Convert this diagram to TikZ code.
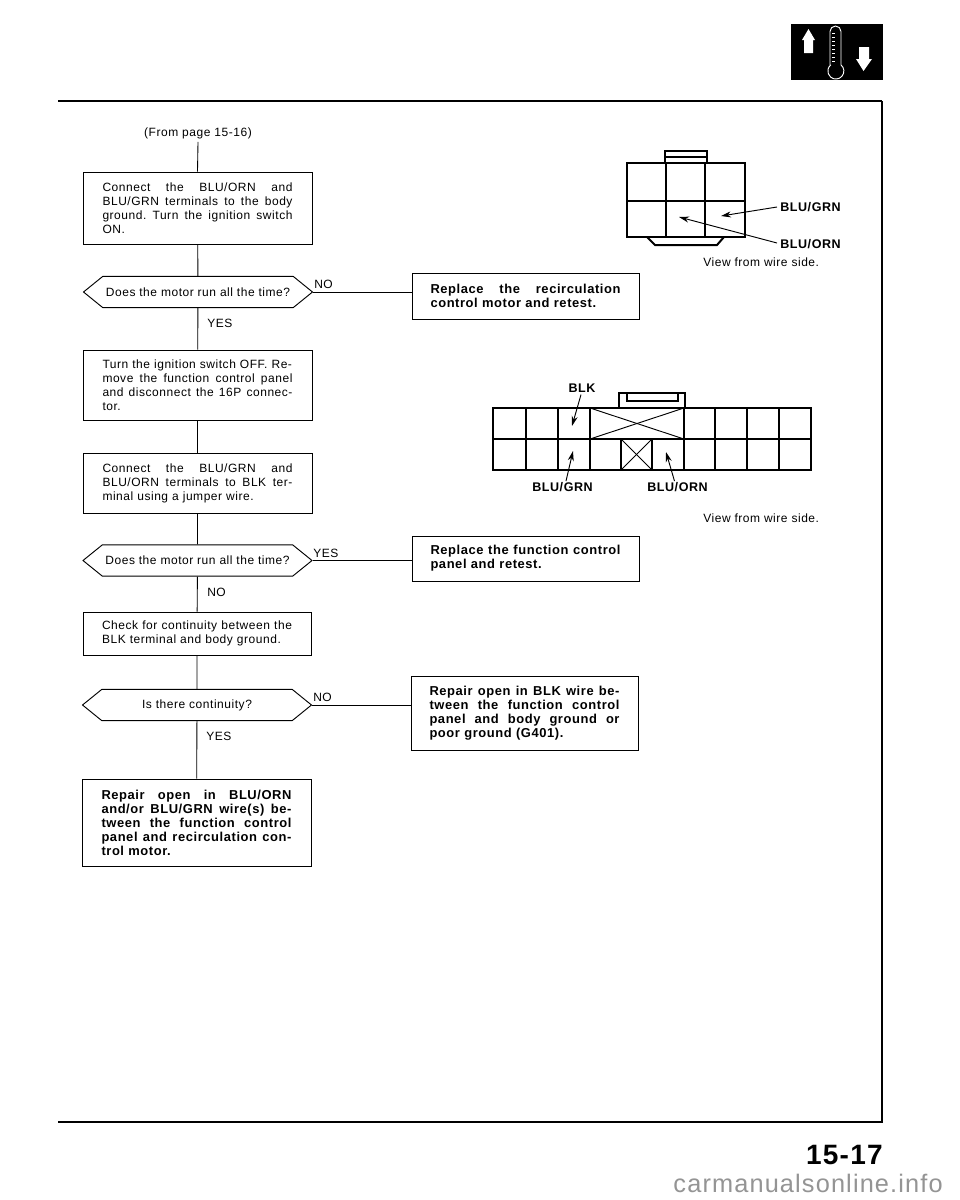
\documentclass[tikz,border=0pt]{standalone}
\usepackage{fontspec}
\setmainfont{Liberation Sans}[LetterSpace=4.5]
\usetikzlibrary{shapes.symbols,arrows.meta}
\newcommand{\jl}[1]{\leavevmode\hbox to 142.5pt{\frenchspacing\spaceskip=.25em plus 1fil\relax #1}}
\newcommand{\bxnode}[7][stepbox]{%
 \node[#1,minimum width={(#5-#3)*0.75pt},minimum height={(#6-#4)*0.75pt}] (#2) at ({(#3+#5)/2},{(#4+#6)/2}) {#7};}
\tikzset{
 basefont/.style={font=\fontsize{9}{10.5}\selectfont\frenchspacing},
 boldfont/.style={font=\fontsize{9.7}{10.5}\selectfont\bfseries\frenchspacing},
 stepbox/.style={draw,line width=.7pt,basefont,align=left,text width=142.5pt,inner xsep=0pt,inner ysep=0pt},
 stepbold/.style={stepbox,boldfont},
 ask/.style={draw,line width=.7pt,basefont,signal,signal to=west and east,signal pointer angle=78,inner xsep=0pt,inner ysep=0pt,minimum width=171.75pt,minimum height=23.5pt},
 link/.style={line width=.65pt},
 lab/.style={basefont,inner sep=0pt,anchor=west},
 wire/.style={font=\fontsize{9.4}{11}\selectfont\bfseries,inner sep=0pt,anchor=west},
 outer/.style={line width=1.5pt},
 inner/.style={line width=1pt},
 pointer/.style={line width=.7pt,-{Stealth[length=7.5pt,width=4.5pt]}},
}
\begin{document}
\begin{tikzpicture}[x=0.75pt,y=-0.75pt]
\useasboundingbox (0,0) rectangle (960,1200);
\fill[white] (0,0) rectangle (960,1200);
% page frame
\draw[line width=1.5pt] (58,101) -- (882,101);
\draw[line width=1.1pt] (882,101) -- (882,1122) -- (58,1122);
% icon
\fill[black] (791,24) rectangle (883,80);
\fill[white] (802,40) -- (808.5,29) -- (815,40) -- (813,40) -- (813,53) -- (804,53) -- (804,40) -- cycle;
\fill[white] (859,47) -- (869,47) -- (869,59) -- (872,59) -- (863.5,71) -- (856,59) -- (859,59) -- cycle;
\draw[white,line width=.7pt] (830,64.9) -- (830,31.5) arc[start angle=180,end angle=360,radius=5.5] -- (841,64.9) arc[start angle=-50,end angle=230,radius=8];
\foreach \ty in {33,37,41,45,49,53,57,61}{\draw[white,line width=.4pt] (832,\ty) -- (835,\ty);}
% flow boxes
\node[basefont,inner sep=0pt] (from) at (198,133) {(From page 15-16)};
\bxnode{b1}{83}{172}{312}{244}{\jl{Connect the BLU/ORN and}\\\jl{BLU/GRN terminals to the body}\\\jl{ground. Turn the ignition switch}\\ON.}
\node[ask] (d1) at (198,292) {Does the motor run all the time?};
\bxnode[stepbold]{r1}{412}{273}{639}{319}{\jl{Replace the recirculation}\\control motor and retest.}
\bxnode{b2}{83}{350}{312}{420}{Turn the ignition switch OFF. Re-\\\jl{move the function control panel}\\\jl{and disconnect the 16P connec-}\\tor.}
\bxnode{b3}{83}{453}{312}{513}{\jl{Connect the BLU/GRN and}\\\jl{BLU/ORN terminals to BLK ter-}\\minal using a jumper wire.}
\node[ask] (d2) at (197.5,560.5) {Does the motor run all the time?};
\bxnode[stepbold]{r2}{412}{536}{639}{581}{\jl{Replace the function control}\\panel and retest.}
\bxnode{b4}{83}{612}{311}{655}{\jl{Check for continuity between the}\\BLK terminal and body ground.}
\node[ask] (d3) at (197,705) {Is there continuity?};
\bxnode[stepbold]{r3}{411}{676}{638}{750}{\jl{Repair open in BLK wire be-}\\\jl{tween the function control}\\\jl{panel and body ground or}\\poor ground (G401).}
\bxnode[stepbold]{b5}{82}{779}{311}{866}{\jl{Repair open in BLU/ORN}\\\jl{and/or BLU/GRN wire(s) be-}\\\jl{tween the function control}\\\jl{panel and recirculation con-}\\trol motor.}
% flow connectors
\draw[link] (from.south) ++(0,3) -- (b1.north);
\draw[link] (b1) -- (d1);
\draw[link] (d1) -- (b2);
\draw[link] (b2) -- (b3);
\draw[link] (b3) -- (d2);
\draw[link] (d2) -- (b4);
\draw[link] (b4) -- (d3);
\draw[link] (d3) -- (b5);
\draw[link] (d1.east) -- (d1.east -| r1.west);
\draw[link] (d2.east) -- (d2.east -| r2.west);
\draw[link] (d3.east) -- (d3.east -| r3.west);
\node[lab] (l1) at (314,284) {NO};
\node[lab] (l2) at (207,323) {YES};
\node[lab] (l3) at (313,553) {YES};
\node[lab] (l4) at (207,592) {NO};
\node[lab] (l5) at (313,697) {NO};
\node[lab] (l6) at (206,736) {YES};
% connector 1
\draw[outer] (666,163) -- (627,163) -- (627,237) -- (745,237) -- (745,163) -- (705,163);
\draw[outer] (665,163) -- (665,151) -- (707,151) -- (707,163);
\draw[inner] (665,157) -- (707,157);
\draw[outer] (665,163) -- (707,163);
\draw[inner] (627,201) -- (745,201);
\draw[inner] (666,163) -- (666,237);
\draw[inner] (705,163) -- (705,237);
\draw[outer] (647,237) -- (655,245) -- (717,245) -- (724,237);
\node[wire] (wa) at (780,207) {BLU/GRN};
\node[wire] (wb) at (780,244) {BLU/ORN};
\node[basefont,inner sep=0pt,anchor=west] (va) at (703,262) {View from wire side.};
\coordinate (ta) at (721,216);
\coordinate (tb) at (679,217);
\draw[pointer] (wa.west) ++(-3,0) -- (ta);
\draw[pointer] (wb.west) ++(-3,-1) -- (tb);
% connector 2
\draw[outer] (619,408) -- (493,408) -- (493,470) -- (811,470) -- (811,408) -- (685,408);
\draw[outer] (619,408) -- (619,393) -- (685,393) -- (685,408);
\draw[inner] (627,393) -- (627,401) -- (678,401) -- (678,393);
\draw[outer] (619,408) -- (685,408);
\draw[inner] (493,439) -- (811,439);
\foreach \vx in {526,558,590,684,715,747,779}{\draw[inner] (\vx,408) -- (\vx,470);}
\draw[inner] (621,439) -- (621,470);
\draw[inner] (652,439) -- (652,470);
\draw[line width=.7pt] (590,408) -- (684,439);
\draw[line width=.7pt] (590,439) -- (684,408);
\draw[line width=.7pt] (621,439) -- (652,470);
\draw[line width=.7pt] (621,470) -- (652,439);
\node[wire,anchor=center] (wc) at (582,388) {BLK};
\node[wire] (wd) at (532,487) {BLU/GRN};
\node[wire] (we) at (647,487) {BLU/ORN};
\node[basefont,inner sep=0pt,anchor=west] (vb) at (703,518) {View from wire side.};
\coordinate (tc) at (572,426);
\coordinate (td) at (573,451);
\coordinate (te) at (666,452);
\draw[pointer] (wc.south) ++(-1,2) -- (tc);
\draw[pointer] (wd.north) ++(3.5,-1) -- (td);
\draw[pointer] (we.north) ++(-3,-1) -- (te);
% page number and site
\node[font=\fontsize{21}{24}\selectfont\bfseries,inner sep=0pt,anchor=east] (pg) at (883,1155) {15-17};
\node[font=\fontsize{19}{22}\selectfont,text=black!42,inner sep=0pt,anchor=east] (site) at (943,1183) {carmanualsonline.info};
\end{tikzpicture}
\end{document}
